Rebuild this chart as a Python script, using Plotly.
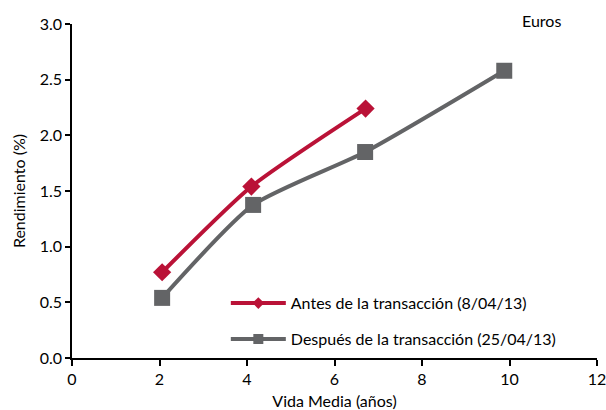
import plotly.graph_objects as go

x_antes = [2.06, 4.1, 6.71]
y_antes = [0.77, 1.54, 2.24]
x_despues = [2.06, 4.14, 6.70, 9.88]
y_despues = [0.54, 1.375, 1.85, 2.58]

name_antes = "Antes de la transacción (8/04/13)"
name_despues = "Después de la transacción (25/04/13)"

RED = "#BA1237"
GRAY = "#636466"
FONT = "Lato"
FS = 16

fig = go.Figure()
fig.add_trace(go.Scatter(
    x=x_antes, y=y_antes, name=name_antes, mode="lines+markers",
    line=dict(color=RED, width=4, shape="spline", smoothing=0.6),
    marker=dict(symbol="diamond", size=14, color=RED),
    showlegend=False,
))
fig.add_trace(go.Scatter(
    x=x_despues, y=y_despues, name=name_despues, mode="lines+markers",
    line=dict(color=GRAY, width=4, shape="spline", smoothing=0.6),
    marker=dict(symbol="square", size=16, color=GRAY),
    showlegend=False,
))
# legend entries (small markers, as in the reference)
fig.add_trace(go.Scatter(
    x=[None], y=[None], name=name_antes, mode="lines+markers",
    line=dict(color=RED, width=4),
    marker=dict(symbol="diamond", size=9, color=RED),
    legendgroup="a",
))
fig.add_trace(go.Scatter(
    x=[None], y=[None], name=name_despues, mode="lines+markers",
    line=dict(color=GRAY, width=4),
    marker=dict(symbol="square", size=10, color=GRAY),
    legendgroup="b",
))

fig.update_layout(
    width=606, height=410,
    margin=dict(l=72, r=9, t=24, b=52),
    paper_bgcolor="white", plot_bgcolor="white",
    font=dict(family=FONT, size=FS, color="#000000"),
    showlegend=True,
    legend=dict(
        x=0.293, y=0.215, xanchor="left", yanchor="top",
        bgcolor="rgba(0,0,0,0)", font=dict(size=FS, family=FONT),
        traceorder="grouped", tracegroupgap=12,
        itemwidth=55,
    ),
    annotations=[dict(
        text="Euros", x=0.895, y=1.01, xref="paper", yref="paper",
        xanchor="center", yanchor="middle", showarrow=False,
        font=dict(size=FS, family=FONT),
    )],
)
fig.update_xaxes(
    range=[0, 12], dtick=2, tick0=0, showgrid=False, zeroline=False,
    showline=True, linecolor="black", linewidth=1.5,
    ticks="outside", ticklen=6, tickcolor="black", tickwidth=1.5,
    ticklabeloverflow="allow", automargin=False,
    title=dict(text="Vida Media (años)", standoff=12, font=dict(size=FS)),
    tickfont=dict(size=FS),
)
fig.update_yaxes(
    range=[0, 3.0], dtick=0.5, tick0=0, tickformat=".1f", showgrid=False,
    zeroline=False, showline=True, linecolor="black", linewidth=1.5,
    ticks="outside", ticklen=5, tickcolor="black", tickwidth=1.5,
    automargin=False,
    title=dict(text="Rendimiento (%)", standoff=10, font=dict(size=FS)),
    tickfont=dict(size=FS),
)

fig.write_html("out.html", config={"displayModeBar": False},
               post_script="document.body.style.margin='0';")
